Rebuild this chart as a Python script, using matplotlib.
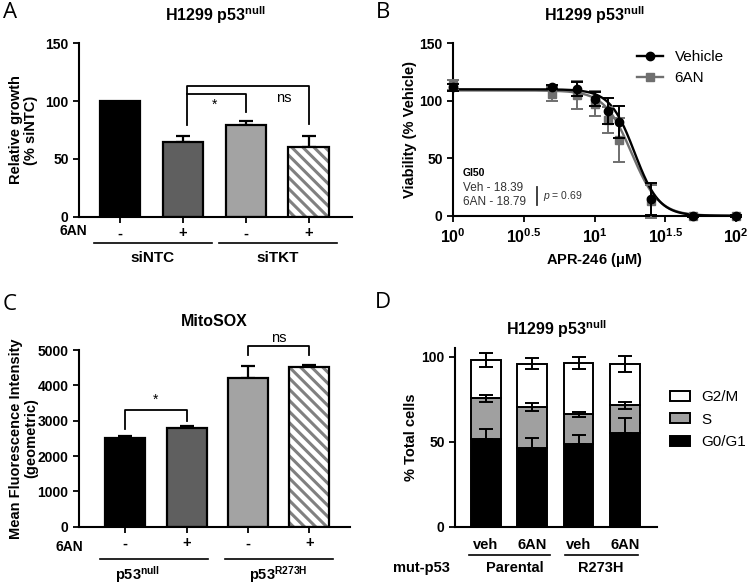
import numpy as np
import matplotlib
matplotlib.use('Agg')
import matplotlib.pyplot as plt
from matplotlib.patches import Patch
from matplotlib.lines import Line2D
import matplotlib.transforms as mtransforms

plt.rcParams['font.family'] = ['Liberation Sans', 'DejaVu Sans']
plt.rcParams['mathtext.fontset'] = 'custom'
plt.rcParams['mathtext.rm'] = 'Liberation Sans'
plt.rcParams['mathtext.bf'] = 'Liberation Sans:bold'
plt.rcParams['mathtext.it'] = 'Liberation Sans:italic'
plt.rcParams['hatch.linewidth'] = 2.2

# ---------------- data ----------------
# Panel A
a_treat = ['-', '+', '-', '+']
a_groups = ['siNTC', 'siTKT']
a_vals = [100, 65, 79, 60.5]
a_err = [0, 5, 4, 9.5]

# Panel B
b_dose = [1, 5, 7.5, 10, 12.5, 15, 25, 50, 100]
b_veh = [111.7, 112, 110.3, 101.3, 91.1, 81.3, 14.3, 0, 0]
b_veh_err = [3, 2, 6.4, 6, 11, 14, 14, 0.8, 0.8]
b_6an = [113.5, 106, 105, 97.5, 83.5, 66, 12.5, 0, 0]
b_6an_err = [4.5, 6, 12, 11, 11.5, 19, 14, 0.8, 0.8]
b_fit_veh = (110, 19.2, 5.0)   # top, midpoint, Hill slope
b_fit_6an = (109, 18.3, 4.5)
b_gi50 = {'Veh': 18.39, '6AN': 18.79}
b_p = 0.69

# Panel C
c_treat = ['-', '+', '-', '+']
c_vals = [2519, 2783, 4198, 4509]
c_err = [56, 66, 349, 76]

# Panel D
d_labels = ['veh', '6AN', 'veh', '6AN']
d_g0 = [51.4, 46.5, 48.6, 55.3]
d_g0_err = [5.9, 5.9, 5.1, 8.4]
d_s = [24.1, 24.1, 17.7, 16.1]
d_s_err = [1.9, 2.3, 1.5, 2.1]
d_g2 = [22.5, 25.4, 30.2, 24.3]
d_g2_err = [4, 3, 3.4, 4.8]

# ---------------- figure ----------------
fig = plt.figure(figsize=(7.49, 5.85), dpi=100)
W, H = 749.0, 585.0
TK = 10      # tick label size
LB = 10.5    # axis label size
TT = 11.5    # title size


def axes_px(l, r, t, b):
    return fig.add_axes([l / W, 1 - b / H, (r - l) / W, (b - t) / H])


def style(ax):
    for s in ['top', 'right']:
        ax.spines[s].set_visible(False)
    for s in ['left', 'bottom']:
        ax.spines[s].set_linewidth(1.5)
    ax.tick_params(width=1.3, length=4, labelsize=TK)
    for lab in ax.get_yticklabels() + ax.get_xticklabels():
        lab.set_fontweight('bold')


LW = 1.6
bar_colors = ['black', '#5f5f5f', '#a3a3a3', 'white']


def draw_bars(ax, x, vals, width):
    for i in range(len(vals)):
        if i == 3:
            ax.bar(x[i], vals[i], width=width, color='white', edgecolor='#808080',
                   linewidth=0, hatch='\\\\\\', zorder=2)
            ax.bar(x[i], vals[i], width=width, fill=False, edgecolor='black',
                   linewidth=LW, zorder=2.5)
        else:
            ax.bar(x[i], vals[i], width=width, color=bar_colors[i], edgecolor='black',
                   linewidth=LW, zorder=2)


title_txt = r'H1299 p53$^{\mathbf{null}}$'

# ---------------- Panel A ----------------
axA = axes_px(79, 352, 43.3, 216.7)
xA = np.arange(4)
draw_bars(axA, xA, a_vals, 0.64)
axA.errorbar(xA[1:], a_vals[1:], yerr=[[0] * 3, a_err[1:]], fmt='none', ecolor='black',
             elinewidth=LW, capsize=5, capthick=LW, zorder=1)
axA.set_xlim(-0.65, 3.69)
axA.set_ylim(0, 150)
axA.set_yticks([0, 50, 100, 150])
axA.set_xticks(xA)
axA.set_xticklabels(a_treat)
style(axA)
axA.tick_params(axis='x', length=4, labelsize=10.5, pad=3)
axA.set_ylabel('Relative growth\n(% siNTC)', fontsize=LB, fontweight='bold', linespacing=1.1)
axA.yaxis.set_label_coords(-0.15, 0.5)
trA = mtransforms.blended_transform_factory(axA.transData, axA.transAxes)
axA.text(-0.52, -0.083, '6AN', transform=trA, ha='right', va='center', fontsize=10,
         fontweight='bold')
for (x0, x1), g in zip([(-0.41, 1.46), (1.58, 3.45)], a_groups):
    axA.plot([x0, x1], [-0.152, -0.152], transform=trA, color='black', lw=1.2, clip_on=False)
    axA.text((x0 + x1) / 2, -0.24, g, transform=trA, ha='center', va='center', fontsize=11,
             fontweight='bold')
# brackets
axA.plot([1.07, 1.07, 3, 3], [79.3, 113.3, 113.3, 80], color='black', lw=1.3, clip_on=False)
axA.plot([1.07, 2.0, 2.0], [105.9, 105.9, 90.8], color='black', lw=1.3, clip_on=False)
axA.text(1.5, 97, '*', ha='center', va='center', fontsize=10)
axA.text(2.6, 103, 'ns', ha='center', va='center', fontsize=10.5)
axA.text(0.5, 1.165, title_txt, transform=axA.transAxes, ha='center', va='center',
         fontsize=TT, fontweight='bold')

# ---------------- Panel B ----------------
axB = axes_px(453, 736, 43.3, 215.8)
xx = np.logspace(0, 2, 400)
gray = '#6f6f6f'
for (top, ec, h), col in [(b_fit_6an, gray), (b_fit_veh, 'black')]:
    axB.plot(xx, top / (1 + (xx / ec) ** h), color=col, lw=1.7, zorder=2)
axB.errorbar(b_dose, b_6an, yerr=b_6an_err, fmt='s', color=gray, ms=5.5, capsize=4,
             elinewidth=1.4, capthick=1.4, clip_on=False, zorder=3)
axB.errorbar(b_dose, b_veh, yerr=b_veh_err, fmt='o', color='black', ms=6, capsize=4,
             elinewidth=1.4, capthick=1.4, clip_on=False, zorder=4)
axB.set_xscale('log')
axB.set_xlim(1, 100)
axB.set_ylim(0, 150)
axB.set_yticks([0, 50, 100, 150])
axB.set_xticks([1, 10 ** 0.5, 10, 10 ** 1.5, 100])
axB.set_xticklabels([r'$\mathbf{10}^{\mathbf{0}}$', r'$\mathbf{10}^{\mathbf{0.5}}$',
                     r'$\mathbf{10}^{\mathbf{1}}$', r'$\mathbf{10}^{\mathbf{1.5}}$',
                     r'$\mathbf{10}^{\mathbf{2}}$'])
axB.xaxis.set_minor_locator(matplotlib.ticker.NullLocator())
style(axB)
axB.tick_params(axis='x', labelsize=11.5, pad=4)
axB.set_ylabel('Viability (% Vehicle)', fontsize=LB, fontweight='bold')
axB.yaxis.set_label_coords(-0.127, 0.5)
axB.set_xlabel(r'APR-246 ($\mathbf{\mu}$M)', fontsize=LB, fontweight='bold', labelpad=4)
handles = [Line2D([], [], color='black', marker='o', ms=6, lw=1.7),
           Line2D([], [], color=gray, marker='s', ms=5.5, lw=1.7)]
axB.legend(handles, ['Vehicle', '6AN'], loc='upper left', bbox_to_anchor=(0.6, 1.04),
           frameon=False, fontsize=11, handlelength=1.7, handletextpad=0.8, labelspacing=0.45)
axB.text(0.035, 0.248, 'GI50', transform=axB.transAxes, fontsize=7.5, fontweight='bold',
         va='center')
axB.text(0.035, 0.161, 'Veh - %.2f' % b_gi50['Veh'], transform=axB.transAxes, fontsize=8.5,
         color='#333333', va='center')
axB.text(0.035, 0.08, '6AN - %.2f' % b_gi50['6AN'], transform=axB.transAxes, fontsize=8.5,
         color='#333333', va='center')
axB.plot([0.297, 0.297], [0.063, 0.169], transform=axB.transAxes, color='#333333', lw=1.3)
axB.text(0.318, 0.115, r'$\it{p}$ = %.2f' % b_p, transform=axB.transAxes, fontsize=7.5,
         color='#333333', va='center')
axB.text(0.5, 1.165, title_txt, transform=axB.transAxes, ha='center', va='center',
         fontsize=TT, fontweight='bold')

# ---------------- Panel C ----------------
axC = axes_px(79, 350, 350, 526.7)
xC = np.arange(4)
draw_bars(axC, xC, c_vals, 0.65)
axC.errorbar(xC, c_vals, yerr=[[0] * 4, c_err], fmt='none', ecolor='black',
             elinewidth=LW, capsize=5, capthick=LW, zorder=1)
axC.set_xlim(-0.75, 3.66)
axC.set_ylim(0, 5000)
axC.set_yticks(np.arange(0, 5001, 1000))
axC.set_xticks(xC)
axC.set_xticklabels(c_treat)
style(axC)
axC.tick_params(axis='x', length=4, labelsize=10.5, pad=3)
axC.set_ylabel('Mean Fluorescence Intensity\n(geometric)', fontsize=LB, fontweight='bold',
               linespacing=1.1)
axC.yaxis.set_label_coords(-0.151, 0.5)
trC = mtransforms.blended_transform_factory(axC.transData, axC.transAxes)
axC.text(-0.68, -0.115, '6AN', transform=trC, ha='right', va='center', fontsize=10,
         fontweight='bold')
c_groups = [r'p53$^{\mathbf{null}}$', r'p53$^{\mathbf{R273H}}$']
for (x0, x1), g, xc in zip([(-0.41, 1.35), (1.63, 3.38)], c_groups, [0.2, 2.5]):
    axC.plot([x0, x1], [-0.185, -0.185], transform=trC, color='black', lw=1.2, clip_on=False)
    axC.text(xc, -0.272, g, transform=trC, ha='center', va='center', fontsize=10.5,
             fontweight='bold')
axC.plot([0, 0, 1, 1], [2765, 3300, 3300, 2990], color='black', lw=1.3, clip_on=False)
axC.text(0.5, 3390, '*', ha='center', va='bottom', fontsize=10)
axC.plot([2, 2, 3, 3], [4860, 5106, 5106, 4860], color='black', lw=1.3, clip_on=False)
axC.text(2.5, 5330, 'ns', ha='center', va='center', fontsize=10.5, clip_on=False)
axC.text(0.5, 1.16, 'MitoSOX', transform=axC.transAxes, ha='center', va='center',
         fontsize=TT, fontweight='bold')

# ---------------- Panel D ----------------
axD = axes_px(455, 656.7, 348.3, 526.7)
xD = np.arange(4)
g0 = np.array(d_g0)
s = np.array(d_s)
g2 = np.array(d_g2)
axD.bar(xD, g0, width=0.64, color='black', edgecolor='black', linewidth=1.4, zorder=2)
axD.bar(xD, s, bottom=g0, width=0.64, color='#a0a0a0', edgecolor='black', linewidth=1.4, zorder=2)
axD.bar(xD, g2, bottom=g0 + s, width=0.64, color='white', edgecolor='black', linewidth=1.4,
        zorder=2)
axD.errorbar(xD, g0, yerr=[[0] * 4, d_g0_err], fmt='none', ecolor='black', elinewidth=1.4,
             capsize=5, capthick=1.4, zorder=3)
axD.errorbar(xD, g0 + s, yerr=d_s_err, fmt='none', ecolor='black', elinewidth=1.4,
             capsize=5, capthick=1.4, zorder=3)
axD.errorbar(xD, g0 + s + g2, yerr=d_g2_err, fmt='none', ecolor='black', elinewidth=1.4,
             capsize=5, capthick=1.4, zorder=3, clip_on=False)
axD.set_xlim(-0.67, 3.69)
axD.set_ylim(0, 105)
axD.set_yticks([0, 50, 100])
axD.set_xticks(xD)
axD.set_xticklabels(d_labels)
style(axD)
axD.tick_params(axis='x', length=0, labelsize=10.5, pad=8)
axD.set_ylabel('% Total cells', fontsize=LB, fontweight='bold')
axD.yaxis.set_label_coords(-0.183, 0.5)
trD = mtransforms.blended_transform_factory(axD.transData, axD.transAxes)
for (x0, x1), g, xc in zip([(-0.37, 1.39), (1.71, 3.29)], ['Parental', 'R273H'], [0.63, 2.47]):
    axD.plot([x0, x1], [-0.159, -0.159], transform=trD, color='black', lw=1.2, clip_on=False)
    axD.text(xc, -0.23, g, transform=trD, ha='center', va='center', fontsize=10.5,
             fontweight='bold')
axD.text(-1.39, -0.23, 'mut-p53', transform=trD, ha='center', va='center', fontsize=10.5,
         fontweight='bold')
lh = [Patch(facecolor='white', edgecolor='black', linewidth=1.4),
      Patch(facecolor='#a0a0a0', edgecolor='black', linewidth=1.4),
      Patch(facecolor='black', edgecolor='black', linewidth=1.4)]
axD.legend(lh, ['G2/M', 'S', 'G0/G1'], loc='center left', bbox_to_anchor=(1.0, 0.6),
           frameon=False, fontsize=11, handlelength=1.3, handleheight=0.65,
           handletextpad=0.7, labelspacing=0.55)
axD.text(0.5, 1.11, title_txt, transform=axD.transAxes, ha='center', va='center',
         fontsize=TT, fontweight='bold')

# panel letters
for x, y, t in [(3, 13, 'A'), (376, 12, 'B'), (3, 305, 'C'), (375, 303, 'D')]:
    fig.text(x / W, 1 - y / H, t, fontsize=16, family=['Open Sans', 'DejaVu Sans'],
             va='center', ha='left')

fig.savefig('out.png', dpi=100)
